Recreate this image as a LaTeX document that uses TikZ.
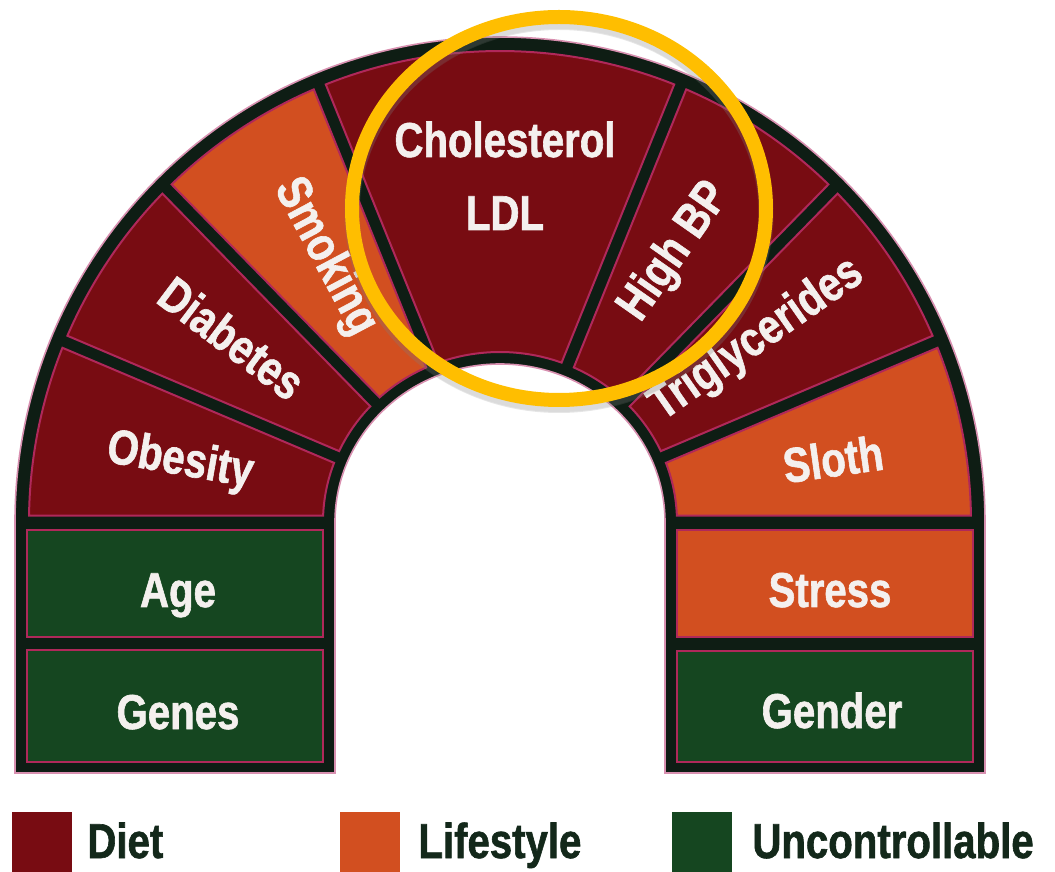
\documentclass[tikz,border=0pt]{standalone}
\usepackage{fontspec}
\setmainfont{Liberation Sans}
\newfontfamily\lblfont{Liberation Sans}[FakeStretch=0.82, BoldFeatures={FakeBold=1.2}]
\usepackage{tikz}
\usetikzlibrary{positioning}
\usepackage{xcolor}

\definecolor{dietred}{HTML}{780C12}
\definecolor{lifeorange}{HTML}{D24F20}
\definecolor{uncgreen}{HTML}{154620}
\definecolor{archdark}{HTML}{0E1D14}
\definecolor{segpink}{HTML}{B0285A}
\definecolor{fringe}{HTML}{D890B0}
\definecolor{ringgold}{HTML}{FFBE00}
\definecolor{lbltext}{HTML}{F4F0EE}
\definecolor{legtext}{HTML}{13281A}

\tikzset{
  seglabel/.style={font=\lblfont\bfseries\fontsize{24.5}{28}\selectfont, text=lbltext, inner sep=0pt},
  legendlabel/.style={font=\lblfont\bfseries\fontsize{24.5}{28}\selectfont, text=legtext, inner sep=0pt, anchor=base west},
  cell/.style={draw=segpink, line width=1pt},
}

\begin{document}
\begin{tikzpicture}[x=0.5pt, y=0.5pt]
        \useasboundingbox (-500,-350) rectangle (555,522);

        % Bogen mit Saeulen
        \filldraw[fill=archdark, draw=fringe, line width=0.8pt] (-485,-251) -- (-485,0) arc[start angle=180, end angle=0, radius=485]
            -- (485,-251) -- (165,-251) -- (165,0) arc[start angle=0, end angle=180, x radius=165, y radius=158] -- (-165,-251) -- cycle;

        % Segmente im Bogen
        \pgfmathsetmacro{\dao}{asin(6.5/471)}
        \pgfmathsetmacro{\dai}{asin(6.5/174)}
        \foreach \a/\b/\c in {180/157.5/dietred, 157.5/135/dietred, 135/112.5/lifeorange, 112.5/67.5/dietred,
                              67.5/45/dietred, 45/22.5/dietred, 22.5/0/lifeorange} {
            \filldraw[cell, fill=\c] (\a-\dao:471) arc[start angle=\a-\dao, end angle=\b+\dao, radius=471]
                -- (\b+\dai:177 and 170) arc[start angle=\b+\dai, end angle=\a-\dai, x radius=177, y radius=170] -- cycle;
        }

        % Saeulen
        \filldraw[cell, fill=uncgreen] (-473,-8.5) rectangle (-177,-115);
        \filldraw[cell, fill=uncgreen] (-473,-128) rectangle (-177,-240);
        \filldraw[cell, fill=lifeorange] (177,-8.5) rectangle (473,-115);
        \filldraw[cell, fill=uncgreen] (177,-129) rectangle (473,-240);

        % Beschriftung
        \node[seglabel, rotate=-10] (obesity) at (-320,60) {Obesity};
        \node[seglabel, rotate=-37] (diabetes) at (-268,184) {Diabetes};
        \node[seglabel, rotate=-62] (smoking) at (-175,265) {Smoking};
        \node[seglabel, anchor=base] (chol) at (5,365) {Cholesterol};
        \node[seglabel, anchor=base] (ldl) at (5,292) {LDL};
        \node[seglabel, rotate=55] (highbp) at (175,270) {High BP};
        \node[seglabel, rotate=35] (trig) at (257,182) {Triglycerides};
        \node[seglabel, rotate=8] (sloth) at (333,63) {Sloth};
        \node[seglabel, anchor=base] (age) at (-322,-85) {Age};
        \node[seglabel, anchor=base] (genes) at (-322,-207) {Genes};
        \node[seglabel, anchor=base] (stress) at (330,-85) {Stress};
        \node[seglabel, anchor=base] (gender) at (332,-206) {Gender};

        % Ring mit Schatten
        \coordinate (ringc) at (59,313.5);
        \draw[gray, opacity=0.10, line width=8pt] ([yshift=-2pt]ringc) ellipse [x radius=207, y radius=191.5];
        \draw[gray, opacity=0.20, line width=7pt] ([yshift=-3pt]ringc) ellipse [x radius=207, y radius=191.5];
        \draw[ringgold, line width=7pt] (ringc) ellipse [x radius=207, y radius=191.5];

        % Legende
        \fill[dietred] (-488,-290) rectangle (-428,-350);
        \fill[lifeorange] (-160,-290) rectangle (-100,-350);
        \fill[uncgreen] (172,-290) rectangle (232,-350);
        \node[legendlabel] (diet) at (-413,-336) {Diet};
        \node[legendlabel] (lifestyle) at (-82,-336) {Lifestyle};
        \node[legendlabel] (uncontrollable) at (252,-336) {Uncontrollable};
    \end{tikzpicture}
\end{document}
